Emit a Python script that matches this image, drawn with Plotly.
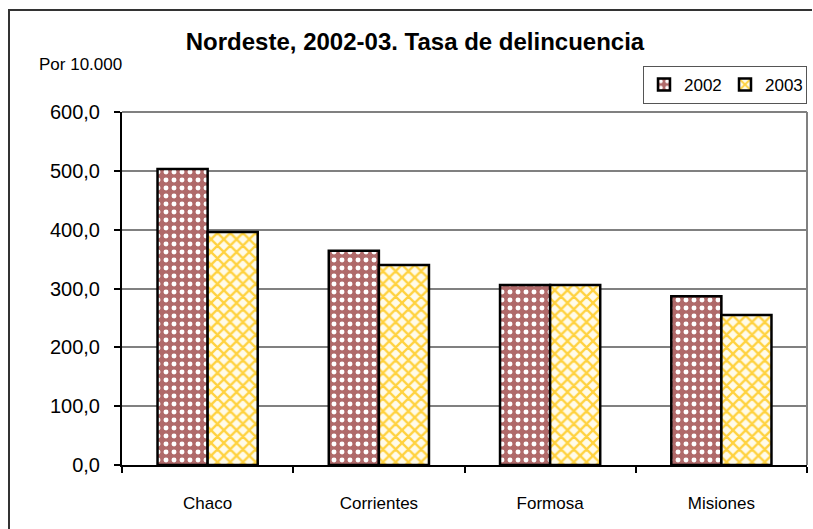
import plotly.graph_objects as go

provincias = ["Chaco", "Corrientes", "Formosa", "Misiones"]
tasa_2002 = [503.0, 364.0, 306.0, 287.0]
tasa_2003 = [396.0, 340.0, 306.0, 255.0]
y_ticks = [0, 100, 200, 300, 400, 500, 600]

FONT = "Liberation Sans, Arial, sans-serif"

fig = go.Figure()
fig.add_trace(go.Bar(
    x=provincias, y=tasa_2002, name="2002",
    marker=dict(
        color="#a85a5a",
        line=dict(color="black", width=2.5),
        pattern=dict(shape=".", fgcolor="white", bgcolor="#b06a6a",
                     size=8, solidity=0.3, fillmode="replace"),
    ),
))
fig.add_trace(go.Bar(
    x=provincias, y=tasa_2003, name="2003",
    marker=dict(
        color="#ffd54a",
        line=dict(color="black", width=2.5),
        pattern=dict(shape="x", fgcolor="#ffd23f", bgcolor="#fffbea",
                     size=9, solidity=0.45, fillmode="replace"),
    ),
))

W, H = 813, 529
L, R, T, B = 122, 6, 112, 64
pw = W - L - R
ph = H - T - B

def px_x(p):
    return (p - L) / pw

def px_y(p):
    return (H - B - p) / ph

fig.update_layout(
    width=W, height=H,
    margin=dict(l=L, r=R, t=T, b=B, pad=0, autoexpand=False),
    paper_bgcolor="white", plot_bgcolor="white",
    separators=",.",
    barmode="group", bargap=0.415, bargroupgap=0,
    font=dict(family=FONT, color="black"),
    title=dict(text="<b>Nordeste, 2002-03. Tasa de delincuencia</b>",
               x=415 / W, xanchor="center", y=1 - 42 / H, yanchor="middle",
               font=dict(size=24, family=FONT, color="black")),
    legend=dict(orientation="h", x=1.0, xanchor="right",
                y=px_y(66), yanchor="top",
                bgcolor="white", bordercolor="#555", borderwidth=1,
                font=dict(size=17, family=FONT), itemwidth=30,
                entrywidth=36, traceorder="normal"),
    xaxis=dict(
        type="category", showline=True, linecolor="black", linewidth=2,
        ticks="outside", tickson="boundaries", ticklen=6, tickwidth=1.5,
        tickcolor="black", showgrid=False,
        tickfont=dict(size=17, family=FONT), ticklabelstandoff=22,
    ),
    yaxis=dict(
        range=[0, 600], tickvals=y_ticks, tickformat=".1f",
        showline=True, linecolor="black", linewidth=2,
        ticks="outside", ticklen=6, tickwidth=1.5, tickcolor="black",
        showgrid=True, gridcolor="#808080", gridwidth=2, zeroline=False,
        tickfont=dict(size=20, family=FONT), ticklabelstandoff=10,
    ),
    shapes=[
        dict(type="line", xref="paper", yref="paper", x0=0, x1=1, y0=1, y1=1,
             line=dict(color="#808080", width=2)),
        dict(type="line", xref="paper", yref="paper", x0=1, x1=1, y0=0, y1=1,
             line=dict(color="#808080", width=2)),
        dict(type="path", xref="paper", yref="paper", layer="above",
             path="M {x0},{y0} L {x0},{y1} L {x1},{y1}".format(
                 x0=px_x(9), y0=px_y(H + 5), y1=px_y(10), x1=px_x(W - 1)),
             line=dict(color="#333", width=2)),
    ],
    annotations=[
        dict(text="Por 10.000", xref="paper", yref="paper",
             x=px_x(80), y=px_y(64), xanchor="center", yanchor="middle",
             showarrow=False, font=dict(size=17, family=FONT)),
    ],
)

fig.write_html(
    "out.html",
    config={"displayModeBar": False},
    post_script="document.body.style.margin='0px';document.body.style.overflow='hidden';",
)
